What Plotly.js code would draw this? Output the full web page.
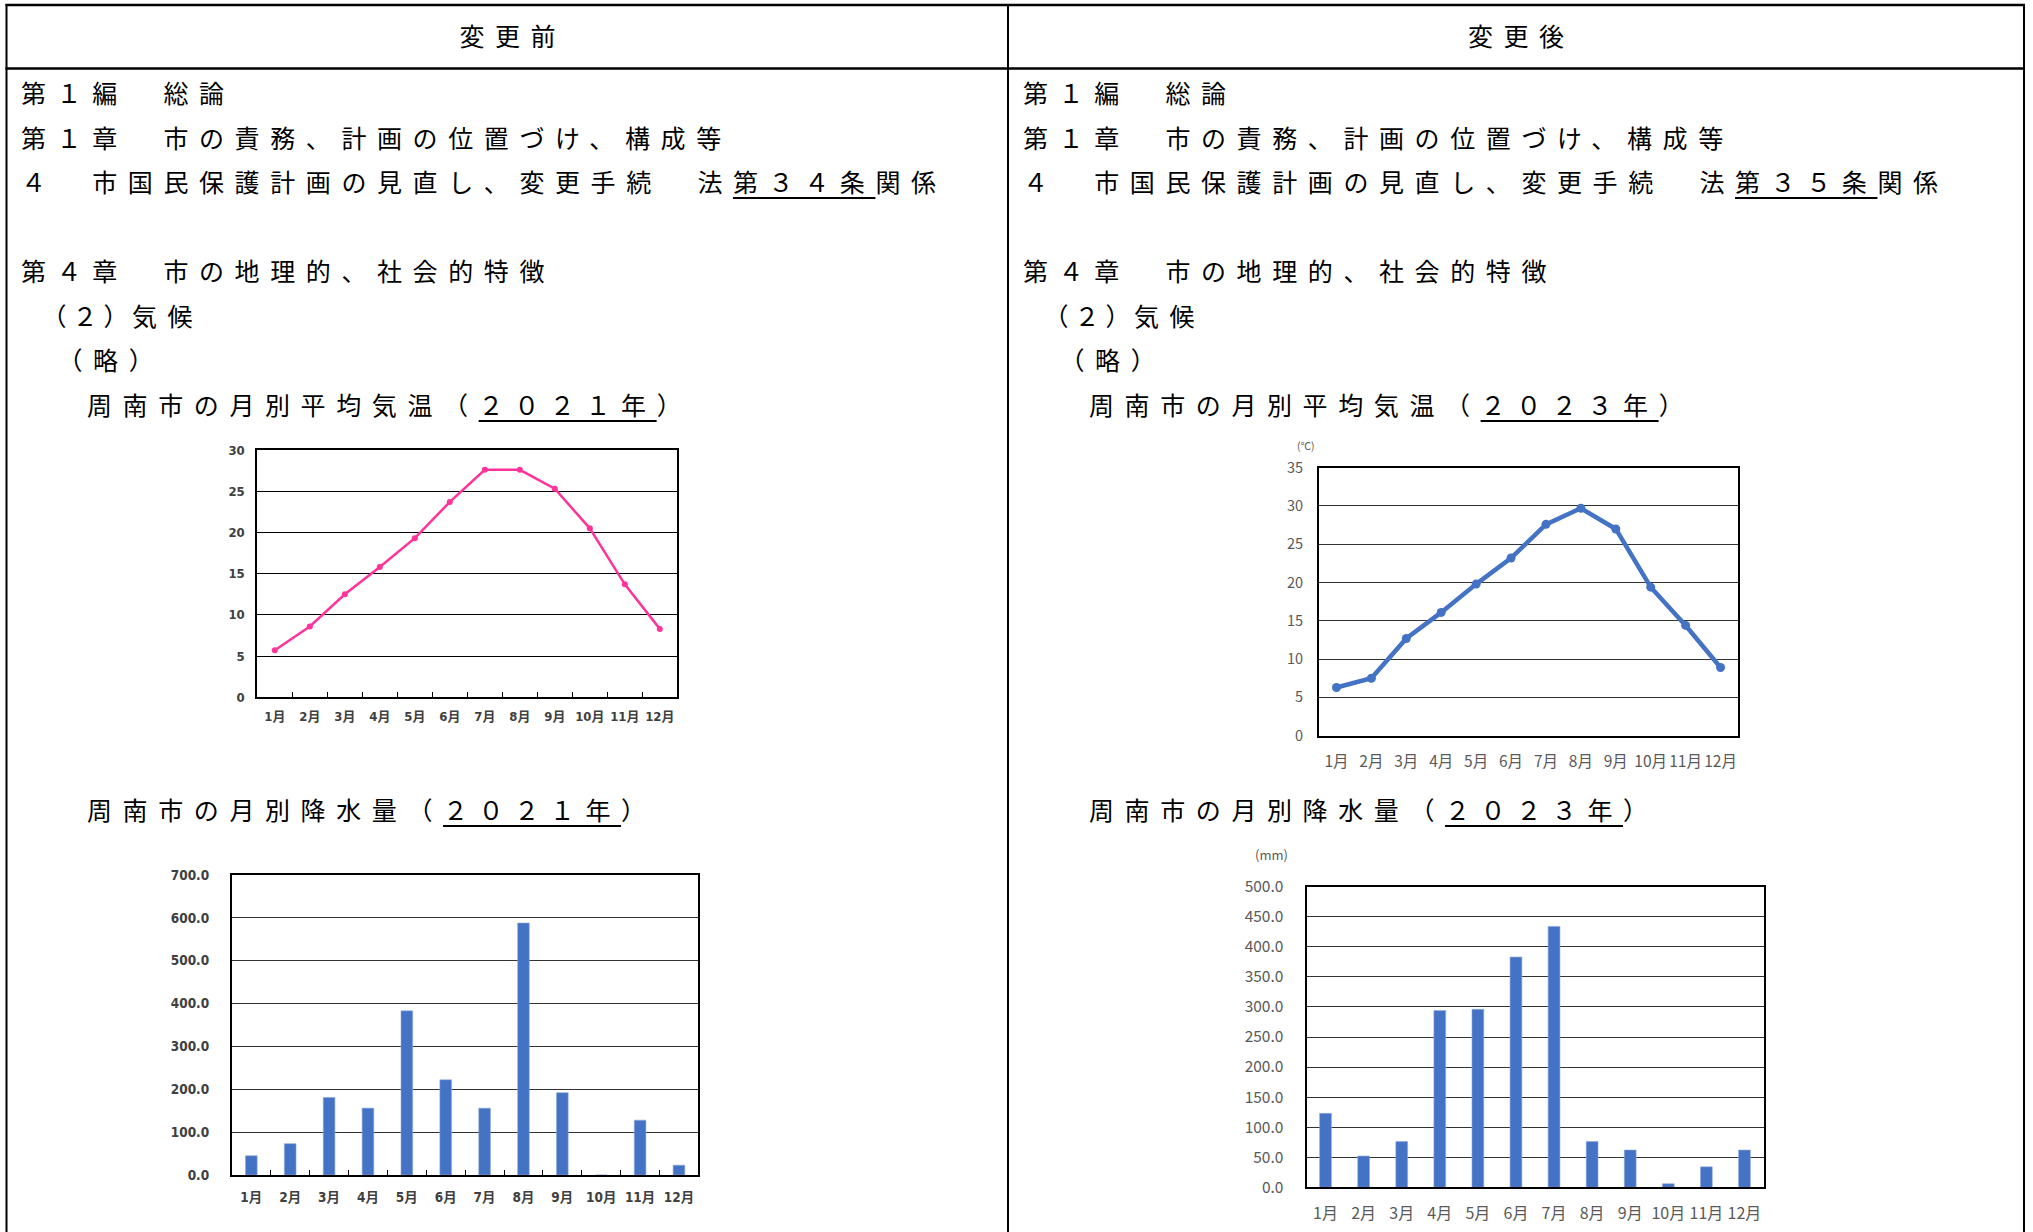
<!DOCTYPE html>
<html>
<head>
<meta charset="utf-8">
<script src="https://cdn.plot.ly/plotly-3.0.1.min.js"></script>
<style>
html,body{margin:0;padding:0;background:#fff;overflow:hidden;width:2033px;height:1232px}
#chart{position:absolute;left:0;top:0;width:2033px;height:1232px}
#doc{position:absolute;left:0;top:0;width:2033px;height:1232px;pointer-events:none}
.t{position:absolute;font-family:'Noto Sans CJK JP',sans-serif;font-size:25px;font-weight:400;letter-spacing:10.6px;line-height:40px;height:40px;white-space:nowrap;color:#000}
.u{text-decoration:underline;text-decoration-thickness:2px;text-underline-offset:5px}
.halt{font-feature-settings:"halt"}
</style>
</head>
<body>
<div id="chart"></div>
<div id="doc"></div>
<script>
// ---------------- data ----------------
const months = ['1月','2月','3月','4月','5月','6月','7月','8月','9月','10月','11月','12月'];
const temp2021 = [5.7, 8.6, 12.5, 15.8, 19.3, 23.7, 27.6, 27.6, 25.3, 20.5, 13.7, 8.3];
const temp2023 = [6.3, 7.5, 12.7, 16.1, 19.8, 23.2, 27.6, 29.7, 27.0, 19.4, 14.4, 8.9];
const rain2021 = [45, 73, 181, 156, 383, 222, 156, 588, 192, 0, 128, 23];
const rain2023 = [123, 52, 76, 294, 296, 383, 434, 76, 62, 6, 34, 62];

// ---------------- page geometry ----------------
const W = 2033, H = 1232;
const px = (a, b) => [a / W, b / W];
const py = (top, bottom) => [1 - bottom / H, 1 - top / H];

const oldFont = {family: 'DejaVu Sans Condensed, Noto Sans CJK JP, sans-serif', size: 13, color: '#404040', weight: 'bold'};
const newFont = {family: 'Noto Sans CJK JP, Noto Sans, sans-serif', size: 14.5, color: '#595959'};

function xax(domain, anchor, font, ticks, standoff) {
  return {domain: domain, anchor: anchor, type: 'category', range: [-0.5, 11.5], autorange: false,
    showgrid: false, zeroline: false, tickangle: 0,
    showline: true, mirror: true, linecolor: '#000', linewidth: 2,
    ticks: ticks ? 'inside' : '', tickson: 'boundaries', ticklen: 5, tickcolor: '#000', tickwidth: 1,
    tickfont: font, ticklabelstandoff: standoff, fixedrange: true};
}
function yax(domain, anchor, range, dtick, fmt, font, grid, standoff) {
  return {domain: domain, anchor: anchor, range: range, autorange: false, dtick: dtick, tick0: 0, tickformat: fmt,
    showgrid: true, gridcolor: grid, gridwidth: 1, zeroline: false,
    showline: true, mirror: true, linecolor: '#000', linewidth: 2, ticks: '',
    tickfont: font, ticklabelstandoff: standoff, fixedrange: true};
}

const traces = [
  {type: 'scatter', mode: 'lines+markers', x: months, y: temp2021, xaxis: 'x', yaxis: 'y',
   line: {color: '#FF3399', width: 2.5}, marker: {color: '#FF3399', size: 6}, cliponaxis: false},
  {type: 'scatter', mode: 'lines+markers', x: months, y: temp2023, xaxis: 'x2', yaxis: 'y2',
   line: {color: '#4472C4', width: 4.5}, marker: {color: '#4472C4', size: 9}, cliponaxis: false},
  {type: 'bar', x: months, y: rain2021, xaxis: 'x3', yaxis: 'y3', width: 0.3,
   marker: {color: '#4472C4', line: {color: '#8FAADC', width: 0.6}}},
  {type: 'bar', x: months, y: rain2023, xaxis: 'x4', yaxis: 'y4', width: 0.31,
   marker: {color: '#4472C4', line: {color: '#8FAADC', width: 0.6}}}
];

const lineShape = (x0, y0, x1, y1, w) => ({type: 'line', xref: 'paper', yref: 'paper',
  x0: x0 / W, x1: x1 / W, y0: 1 - y0 / H, y1: 1 - y1 / H, line: {color: '#000', width: w}});

const layout = {
  width: W, height: H, margin: {l: 0, r: 0, t: 0, b: 0, pad: 0},
  paper_bgcolor: '#fff', plot_bgcolor: '#fff', showlegend: false,
  xaxis:  xax(px(257.3, 677.3), 'y', oldFont, true, 6),
  yaxis:  yax(py(450, 697.3), 'x', [0, 30], 5, '', oldFont, '#000', 8),
  xaxis2: xax(px(1319, 1738), 'y2', Object.assign({}, newFont, {size: 15.5}), false, 11),
  yaxis2: yax(py(467.7, 735.7), 'x2', [0, 35], 5, '', newFont, '#333', 11),
  xaxis3: xax(px(231.9, 698.4), 'y3', Object.assign({}, oldFont, {size: 13.5}), true, 9),
  yaxis3: yax(py(875, 1175), 'x3', [0, 700], 100, '.1f', Object.assign({}, oldFont, {size: 13.5}), '#333', 18),
  xaxis4: xax(px(1306.5, 1763.5), 'y4', Object.assign({}, newFont, {size: 16}), false, 10),
  yaxis4: yax(py(886.7, 1187.3), 'x4', [0, 500], 50, '.1f', Object.assign({}, newFont, {size: 15.5}), '#333', 18),
  annotations: [
    {xref: 'paper', yref: 'paper', x: 1306 / W, y: 1 - 445 / H, text: '(℃)', showarrow: false,
     xanchor: 'center', yanchor: 'middle', font: {family: 'Noto Sans CJK JP, sans-serif', size: 10.5, color: '#595959'}},
    {xref: 'paper', yref: 'paper', x: 1271 / W, y: 1 - 855 / H, text: '(mm)', showarrow: false,
     xanchor: 'center', yanchor: 'middle', font: {family: 'Noto Sans CJK JP, sans-serif', size: 13, color: '#595959'}}
  ],
  shapes: [
    lineShape(5.5, 5, 2025, 5, 2.5),
    lineShape(5.5, 68.5, 2025, 68.5, 2.5),
    lineShape(6.5, 4, 6.5, 1232, 2),
    lineShape(1008, 4, 1008, 1232, 2),
    lineShape(2024, 4, 2024, 1232, 2)
  ]
};

Plotly.newPlot('chart', traces, layout, {displayModeBar: false, staticPlot: true});

// ---------------- document text ----------------
const doc = document.getElementById('doc');
function put(x, cy, html, extra) {
  const d = document.createElement('div');
  d.className = 't';
  d.style.left = x + 'px';
  d.style.top = (cy - 21.8) + 'px';
  if (extra) Object.assign(d.style, extra);
  d.innerHTML = html;
  doc.appendChild(d);
}
function header(x0, x1, text) {
  put(x0, 37, text, {width: (x1 - x0) + 'px', textAlign: 'center', paddingLeft: '10.6px', boxSizing: 'border-box'});
}
header(7, 1008, '変更前');
header(1008, 2024, '変更後');

function column(cx, art, year) {
  put(cx, 94, '第１編　総論');
  put(cx, 138.5, '第１章　市の責務、計画の位置づけ、構成等');
  put(cx, 183, '４　市国民保護計画の見直し、変更手続　法<span class="u">第３' + art + '条</span>関係');
  put(cx, 272, '第４章　市の地理的、社会的特徴');
  put(cx + 33, 316.5, '<span class="halt" style="letter-spacing:6px">（２）</span><span style="margin-left:10px">気候</span>');
  put(cx + 49, 361, '<span class="halt">（略）</span>');
  put(cx + 66, 405.5, '周南市の月別平均気温（<span class="u">２０２' + year + '年</span>）');
  put(cx + 66, 810.4, '周南市の月別降水量（<span class="u">２０２' + year + '年</span>）');
}
column(21, '４', '１');
column(1023, '５', '３');
</script>
</body>
</html>
